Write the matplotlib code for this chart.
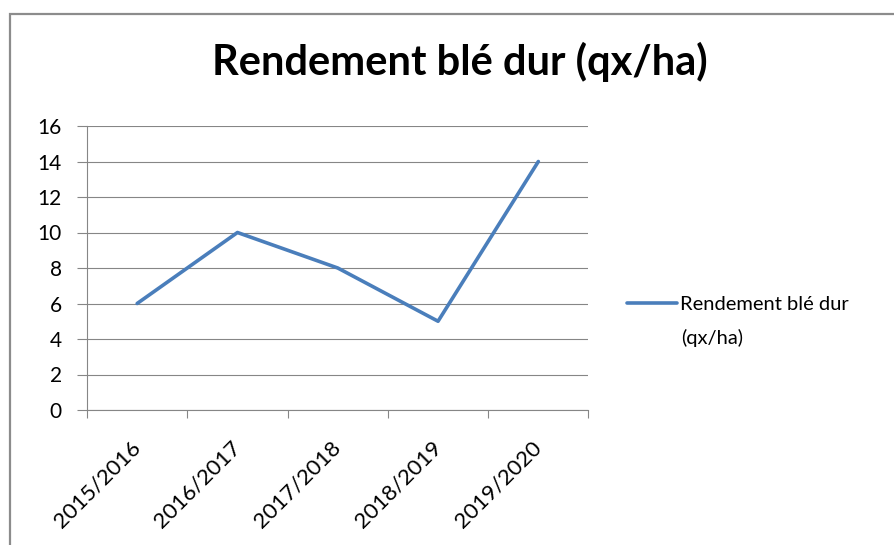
import matplotlib.pyplot as plt
from matplotlib.patches import Rectangle

plt.rcParams['font.family'] = ['Lato', 'DejaVu Sans']

campagnes = ['2015/2016', '2016/2017', '2017/2018', '2018/2019', '2019/2020']
rendement = [6, 10, 8, 5, 14]
yticks = list(range(0, 17, 2))

fig = plt.figure(figsize=(8.95, 5.45), dpi=100)
ax = fig.add_axes([87/895, 1 - 410/545, 501.5/895, 284/545])

x = list(range(len(campagnes)))
ax.plot(x, rendement, color='#4A7EBB', linewidth=2.6, label='Rendement blé dur',
        solid_capstyle='round')

ax.set_xlim(-0.5, len(campagnes) - 0.5)
ax.set_ylim(0, 16)
ax.set_yticks(yticks)
ax.grid(True, axis='y', color='#868686', linewidth=0.8)
ax.set_axisbelow(True)

ax.set_xticks(x)
ax.set_xticklabels(campagnes, rotation=45, ha='right', va='center',
                   rotation_mode='anchor', fontsize=16)
ax.set_xticks([i - 0.5 for i in range(len(campagnes) + 1)], minor=True)
ax.tick_params(axis='x', which='major', length=0, pad=25)
ax.tick_params(axis='x', which='minor', length=6, color='#868686', width=0.8)
ax.tick_params(axis='y', length=7, color='#868686', width=0.8, labelsize=15, pad=11)

for s in ['top', 'right']:
    ax.spines[s].set_visible(False)
for s in ['left', 'bottom']:
    ax.spines[s].set_color('#868686')
    ax.spines[s].set_linewidth(0.8)

fig.text(460/895, 1 - 62/545, 'Rendement blé dur (qx/ha)', ha='center', va='center',
         fontsize=30, fontweight='bold')

fig.legend(loc='center left', bbox_to_anchor=(627/895, 1 - 304/545), frameon=False,
           fontsize=14.5, handlelength=2.5, handletextpad=0.15, borderpad=0,
           borderaxespad=0)
fig.text(681/895, 1 - 338/545, '(qx/ha)', ha='left', va='center', fontsize=14.5)

fig.patches.append(Rectangle((10/895, -0.1), 1.2, 1.1 - 14/545, transform=fig.transFigure,
                             fill=False, edgecolor='#8c8c8c', linewidth=1.6))

fig.savefig('out.png', dpi=100)
